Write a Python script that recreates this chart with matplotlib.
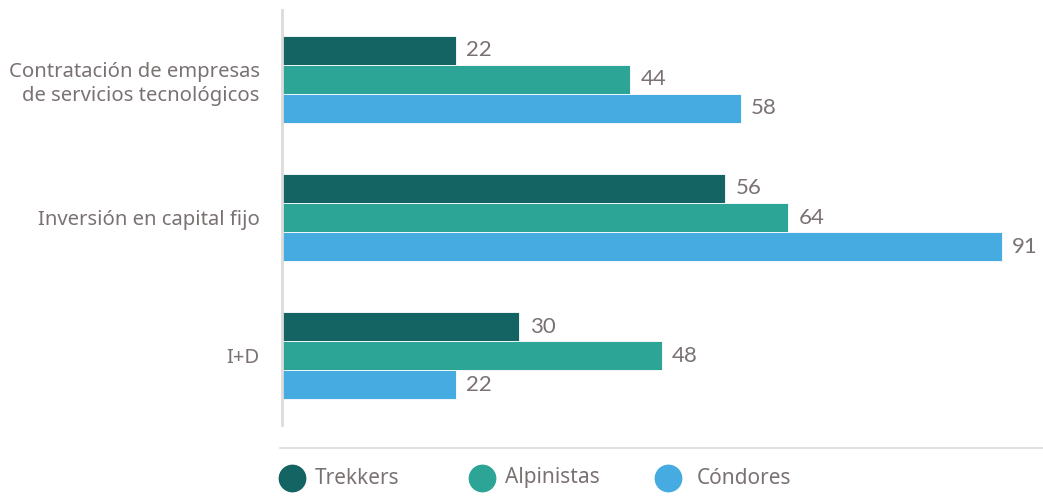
import matplotlib
matplotlib.use("Agg")
import matplotlib.pyplot as plt
from matplotlib.lines import Line2D
import numpy as np

categories = ["Contratación de empresas\nde servicios tecnológicos",
              "Inversión en capital fijo",
              "I+D"]
series_names = ["Trekkers", "Alpinistas", "Cóndores"]
trekkers = [22, 56, 30]
alpinistas = [44, 64, 48]
condores = [58, 91, 22]

colors = ["#146464", "#2ca597", "#46abe1"]
text_color = "#7a7272"
line_color = "#dcdcdc"

W, H = 1043, 500
fig = plt.figure(figsize=(W / 100, H / 100), dpi=100)
ax = fig.add_axes([282 / W, 1 - 425 / H, (1040 - 282) / W, 415 / H])

px_per_unit = 7.912
ax.set_xlim(0, (1040 - 282) / px_per_unit)
ax.set_ylim(2.5, -0.5)

bar_h = 0.21
y = np.arange(len(categories))
for i, (vals, col) in enumerate(zip([trekkers, alpinistas, condores], colors)):
    pos = y + (i - 1) * bar_h
    ax.barh(pos, vals, height=bar_h, color=col, edgecolor="white", linewidth=0.6)
    for p, v in zip(pos, vals):
        ax.text(v + 1.3, p, str(v), va="center", ha="left",
                fontsize=16, color=text_color, family="Lato")

ax.set_yticks(y)
ax.set_yticklabels(categories, fontsize=14.6, color=text_color,
                   family="Noto Sans", linespacing=1.3)
ax.tick_params(axis="y", length=0, pad=16)
ax.set_xticks([])
for s in ["top", "right", "bottom"]:
    ax.spines[s].set_visible(False)
ax.spines["left"].set_color(line_color)
ax.spines["left"].set_linewidth(2)

# separator line above the legend
fig.add_artist(Line2D([280 / W, 1.0], [1 - 448 / H] * 2, color=line_color,
                      linewidth=1.2, transform=fig.transFigure))

# legend: marker centre and label start (pixels)
legend_marker_x = [292, 482, 668]
legend_text_x = [315, 505, 697]
for name, col, mx, tx in zip(series_names, colors, legend_marker_x, legend_text_x):
    fig.add_artist(Line2D([mx / W], [1 - 478 / H], marker="o", markersize=19,
                          color=col, linestyle="none", transform=fig.transFigure))
    fig.text(tx / W, 1 - 478 / H, name, va="center", ha="left",
             fontsize=15, color=text_color, family="Noto Sans")

fig.savefig("out.png", dpi=100, facecolor="white")
